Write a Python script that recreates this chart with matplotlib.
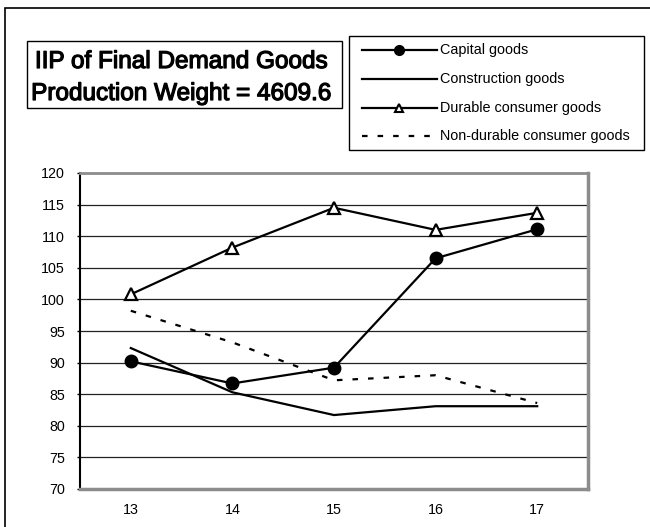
import matplotlib
matplotlib.use("Agg")
import matplotlib.pyplot as plt
from matplotlib.patches import Rectangle
from matplotlib.lines import Line2D
import matplotlib.patheffects as pe

plt.rcParams['font.family'] = ['Liberation Sans', 'DejaVu Sans']

years = ["13", "14", "15", "16", "17"]
capital = [90.2, 86.7, 89.2, 106.5, 111.1]
construction = [92.3, 85.3, 81.7, 83.1, 83.1]
durable = [100.8, 108.2, 114.5, 111.0, 113.7]
nondurable = [98.2, 93.2, 87.2, 88.0, 83.6]
yticks = [70, 75, 80, 85, 90, 95, 100, 105, 110, 115, 120]
labels = ["Capital goods", "Construction goods", "Durable consumer goods",
          "Non-durable consumer goods"]
title_lines = ["IIP of Final Demand Goods", "Production Weight = 4609.6"]

W, H = 650, 527
fig = plt.figure(figsize=(W / 100, H / 100), dpi=100)

def fx(px):
    return px / W

def fy(py):
    return 1 - py / H

# outer border
fig.add_artist(Rectangle((fx(5), -0.1), 1.2, fy(8) + 0.1, transform=fig.transFigure,
                         fill=False, edgecolor='black', linewidth=1.2))

ax = fig.add_axes([fx(80), fy(489), fx(588) - fx(80), fy(173) - fy(489)])
x = list(range(len(years)))

ax.plot(x, construction, color='black', linewidth=1.6, zorder=3)
ax.plot(x, nondurable, color='black', linewidth=1.6, dashes=(2.5, 4.5), zorder=3)
ax.plot(x, capital, color='black', linewidth=1.6, marker='o', markersize=9,
        markerfacecolor='black', zorder=4)
ax.plot(x, durable, color='black', linewidth=1.6, marker='^', markersize=8,
        markerfacecolor='white', markeredgecolor='black', markeredgewidth=1.6, zorder=4)

ax.set_xlim(-0.5, len(years) - 0.5)
ax.set_ylim(70, 120)
ax.set_yticks(yticks)
ax.set_xticks(x)
ax.set_xticklabels(years)
for yv in yticks[1:-1]:
    ax.axhline(yv, color='#222222', linewidth=0.9, zorder=1)
ax.tick_params(axis='y', length=2, width=1, pad=9, labelsize=10.3)
ax.tick_params(axis='x', length=0, pad=10, labelsize=10.3)
ax.spines['left'].set_color('black')
ax.spines['left'].set_linewidth(1.5)
ax.spines['bottom'].set_color('#8c8c8c')
ax.spines['bottom'].set_linewidth(2.5)
ax.spines['top'].set_color('#8c8c8c')
ax.spines['top'].set_linewidth(2)
ax.spines['right'].set_color('#8c8c8c')
ax.spines['right'].set_linewidth(2.5)

# title box
fig.add_artist(Rectangle((fx(27), fy(108)), fx(342) - fx(27), fy(41) - fy(108),
                         transform=fig.transFigure, fill=False, edgecolor='black',
                         linewidth=1.0))
heavy = [pe.withStroke(linewidth=0.9, foreground='black')]
fig.text(fx(181), fy(68), title_lines[0], ha='center', va='baseline', fontsize=17.5,
         path_effects=heavy)
fig.text(fx(181), fy(100), title_lines[1], ha='center', va='baseline', fontsize=17.5,
         path_effects=heavy)

# legend box
fig.add_artist(Rectangle((fx(349), fy(150)), fx(644) - fx(349), fy(36) - fy(150),
                         transform=fig.transFigure, fill=False, edgecolor='black',
                         linewidth=1.0))
rows = [50, 79, 108, 136]
styles = [dict(marker='o', markersize=7, markerfacecolor='black'),
          dict(),
          dict(marker='^', markersize=6, markerfacecolor='white', markeredgewidth=1.5),
          dict(dashes=(2.5, 4.5))]
for ry, lab, st in zip(rows, labels, styles):
    fig.add_artist(Line2D([fx(362), fx(437)], [fy(ry), fy(ry)], transform=fig.transFigure,
                          color='black', linewidth=1.6, markevery=[], **st))
    if 'marker' in st:
        fig.add_artist(Line2D([fx(399)], [fy(ry)], transform=fig.transFigure,
                              color='black', linestyle='none', markeredgecolor='black', **st))
    fig.text(fx(440), fy(ry), lab, ha='left', va='center', fontsize=10.4)

fig.savefig("out.png", dpi=100)
